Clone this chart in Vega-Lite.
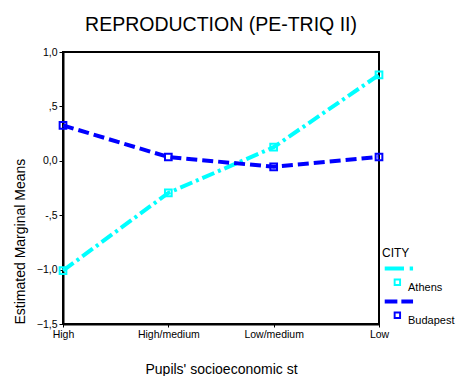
{
  "$schema": "https://vega.github.io/schema/vega-lite/v6.json",
  "width": 316,
  "height": 272,
  "autosize": {"type": "none"},
  "padding": {"left": 63, "top": 52, "right": 78, "bottom": 52},
  "background": "white",
  "title": {"text": "REPRODUCTION (PE-TRIQ II)", "font": "Liberation Sans", "fontSize": 19.5, "fontWeight": "normal", "color": "black", "offset": 12},
  "config": {
    "view": {"stroke": "black", "strokeWidth": 2},
    "font": "Liberation Sans"
  },
  "data": {"values": [
    {"CITY": "Athens", "SES": "High", "value": -1.01},
    {"CITY": "Athens", "SES": "High/medium", "value": -0.295},
    {"CITY": "Athens", "SES": "Low/medium", "value": 0.125},
    {"CITY": "Athens", "SES": "Low", "value": 0.79},
    {"CITY": "Budapest", "SES": "High", "value": 0.325},
    {"CITY": "Budapest", "SES": "High/medium", "value": 0.035},
    {"CITY": "Budapest", "SES": "Low/medium", "value": -0.055},
    {"CITY": "Budapest", "SES": "Low", "value": 0.035}
  ]},
  "encoding": {
    "x": {"field": "SES", "type": "ordinal", "sort": ["High", "High/medium", "Low/medium", "Low"],
      "scale": {"type": "point", "padding": 0},
      "axis": {"title": "Pupils' socioeconomic st", "titleFontSize": 14, "titleFontWeight": "normal", "titleColor": "black", "titlePadding": 23,
        "labelAngle": 0, "labelFontSize": 10.5, "labelColor": "black", "labelPadding": 2, "tickSize": 3, "tickColor": "black", "domainColor": "black", "domainWidth": 2}},
    "y": {"field": "value", "type": "quantitative",
      "scale": {"domain": [-1.5, 1.0], "nice": false, "zero": false},
      "axis": {"title": "Estimated Marginal Means", "titleFontSize": 14, "titleFontWeight": "normal", "titleColor": "black", "titleAnchor": "start", "titlePadding": 9,
        "values": [-1.5, -1, -0.5, 0, 0.5, 1],
        "labelExpr": "datum.value == 0.5 ? ',5' : datum.value == -0.5 ? '-,5' : replace(format(datum.value, '.1f'), '.', ',')",
        "labelFontSize": 10.5, "labelColor": "black", "labelPadding": 2, "tickSize": 4, "tickColor": "black", "grid": false, "domainColor": "black", "domainWidth": 2}},
    "color": {"field": "CITY", "type": "nominal",
      "scale": {"domain": ["Athens", "Budapest"], "range": ["#00FFFF", "#0000FF"]},
      "legend": {"title": "CITY", "orient": "none", "legendX": 319, "legendY": 196, "padding": 0,
        "titleFontSize": 12, "titleFontWeight": "normal", "titleColor": "black", "titlePadding": 12,
        "labelFontSize": 11, "labelColor": "black", "labelOffset": -6,
        "symbolSize": 1024, "symbolStrokeWidth": 0, "symbolOpacity": 1, "rowPadding": 6}}
  },
  "layer": [
    {
      "mark": {"type": "line", "strokeWidth": 4, "strokeCap": "butt"},
      "encoding": {
        "strokeDash": {"field": "CITY", "type": "nominal", "legend": null,
          "scale": {"domain": ["Athens", "Budapest"], "range": [[13, 4, 3, 4], [11, 5]]}}
      }
    },
    {
      "mark": {"type": "point", "shape": "square", "filled": false, "size": 45, "strokeWidth": 2, "opacity": 1}
    },
    {
      "mark": {"type": "point", "filled": true, "opacity": 0},
      "encoding": {
        "shape": {"field": "CITY", "type": "nominal",
          "scale": {"domain": ["Athens", "Budapest"], "range": [
            "M-0.83,-1.345L0.375,-1.345L0.375,-1.095L-0.83,-1.095Z M0.73,-1.345L0.94,-1.345L0.94,-1.095L0.73,-1.095Z M-0.27,-0.59L0.19,-0.59L0.19,-0.13L-0.27,-0.13Z M-0.15,-0.47L-0.15,-0.25L0.07,-0.25L0.07,-0.47Z",
            "M-0.83,-1.345L-0.04,-1.345L-0.04,-1.095L-0.83,-1.095Z M0.21,-1.345L0.94,-1.345L0.94,-1.095L0.21,-1.095Z M-0.27,-0.59L0.19,-0.59L0.19,-0.13L-0.27,-0.13Z M-0.15,-0.47L-0.15,-0.25L0.07,-0.25L0.07,-0.47Z"
          ]},
          "legend": {"title": "CITY", "orient": "none", "legendX": 319, "legendY": 196, "padding": 0,
            "titleFontSize": 12, "titleFontWeight": "normal", "titleColor": "black", "titlePadding": 12,
            "labelFontSize": 11, "labelColor": "black", "labelOffset": -6,
            "symbolSize": 1024, "symbolStrokeWidth": 0, "symbolOpacity": 1, "rowPadding": 6}}
      }
    }
  ]
}
